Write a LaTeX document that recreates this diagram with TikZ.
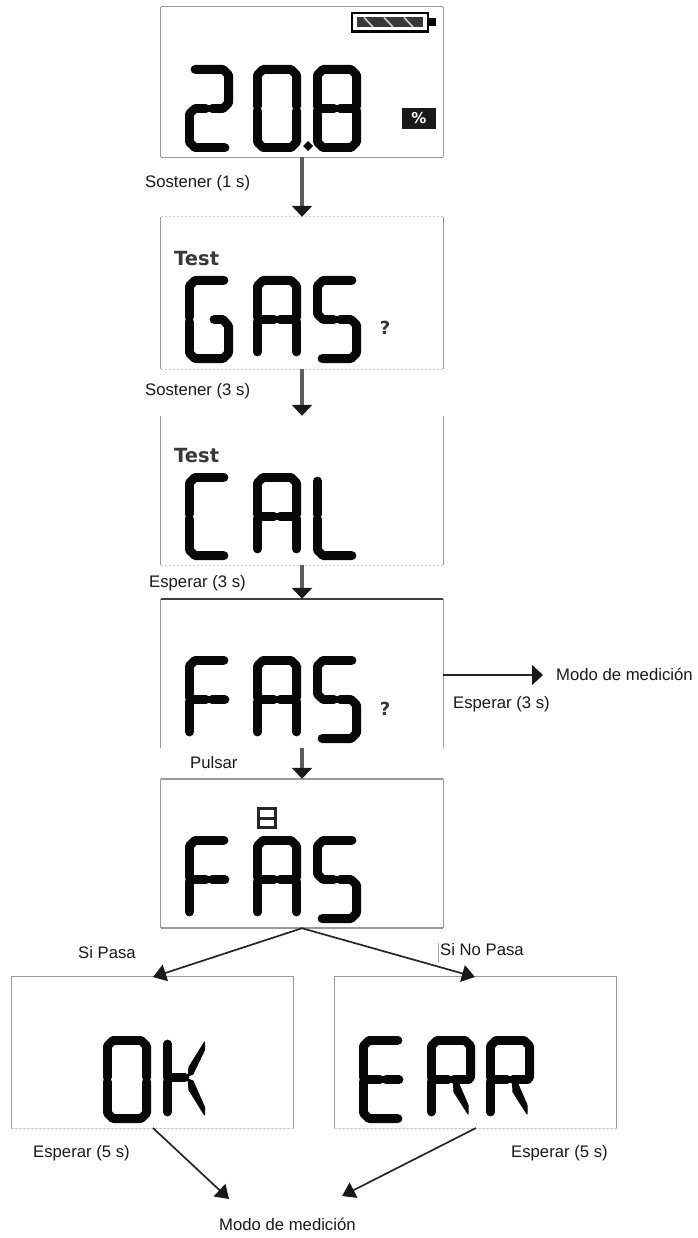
\documentclass[tikz,border=0pt]{standalone}
\usepackage{fontspec}
\setmainfont{Liberation Sans}
\newfontfamily\lcdlabel{DejaVu Sans}
\usetikzlibrary{arrows.meta}
\definecolor{frameline}{gray}{0.6}
\definecolor{framepale}{gray}{0.8}
\definecolor{shaftgray}{gray}{0.36}
\definecolor{lcdblack}{gray}{0.03}
\tikzset{
 panelbox/.style={inner sep=0pt,minimum width=282pt,draw=none},
 pl/.style={draw=frameline,line width=1.3pt},
 pd/.style={draw=framepale,line width=1.1pt,dash pattern=on 2.5pt off 1.5pt},
 lcd/.style={draw=lcdblack,line width=8.8pt,line cap=round,line join=round},
 lcdfill/.style={fill=lcdblack,draw=lcdblack,line width=1pt,line join=round},
 lab/.style={font=\fontsize{16.7}{18}\selectfont,anchor=base west,inner sep=0pt,text=black!90},
 testlab/.style={font=\lcdlabel\bfseries\fontsize{19.5}{21}\selectfont,anchor=base west,inner sep=0pt,text=black!78},
 qlab/.style={font=\lcdlabel\bfseries\fontsize{18}{19}\selectfont,anchor=center,inner sep=0pt,text=black!80},
 downarr/.style={draw=shaftgray,line width=3.6pt,-{Triangle[width=20pt,length=11pt,color=black!90]}},
 thinarr/.style={draw=black!85,line width=1.7pt,-{Triangle[width=17pt,length=13pt,color=black!90]}},
}
% seven-segment glyphs, local box 48 x 87
\newcommand{\glzero}{\draw[lcd] (4.4,41.5)--(4.4,10)--(10,4.4)--(38,4.4)--(43.6,10)--(43.6,41.5);\draw[lcd] (4.4,45.5)--(4.4,77)--(10,82.6)--(38,82.6)--(43.6,77)--(43.6,45.5);}
\newcommand{\gltwo}{\draw[lcd] (10,4.4)--(38,4.4)--(43.6,10)--(43.6,38)--(38,43.5)--(27,43.5);\draw[lcd] (21,43.5)--(10,43.5)--(4.4,49)--(4.4,77)--(10,82.6)--(40,82.6);}
\newcommand{\gleight}{\glzero\draw[lcd] (6,43.5)--(21,43.5);\draw[lcd] (27,43.5)--(42,43.5);}
\newcommand{\glG}{\draw[lcd] (39,4.4)--(10,4.4)--(4.4,10)--(4.4,41.5);\draw[lcd] (4.4,45.5)--(4.4,77)--(10,82.6)--(38,82.6)--(43.6,77)--(43.6,50)--(38,43.5)--(29,43.5);}
\newcommand{\glA}{\draw[lcd] (4.4,41.5)--(4.4,10)--(10,4.4)--(38,4.4)--(43.6,10)--(43.6,41.5);\draw[lcd] (4.4,45.5)--(4.4,76);\draw[lcd] (43.6,45.5)--(43.6,76);\draw[lcd] (6,43.5)--(21,43.5);\draw[lcd] (27,43.5)--(42,43.5);}
\newcommand{\glS}{\draw[lcd] (39,4.4)--(10,4.4)--(4.4,10)--(4.4,38)--(10,43.5)--(21,43.5);\draw[lcd] (27,43.5)--(38,43.5)--(43.6,49)--(43.6,77)--(38,82.6)--(9,82.6);}
\newcommand{\glC}{\draw[lcd] (39,4.4)--(10,4.4)--(4.4,10)--(4.4,41.5);\draw[lcd] (4.4,45.5)--(4.4,77)--(10,82.6)--(39,82.6);}
\newcommand{\glL}{\draw[lcd] (4.4,8)--(4.4,41.5);\draw[lcd] (4.4,45.5)--(4.4,77)--(10,82.6)--(39,82.6);}
\newcommand{\glF}{\draw[lcd] (39,4.4)--(10,4.4)--(4.4,10)--(4.4,41.5);\draw[lcd] (4.4,45.5)--(4.4,76);\draw[lcd] (6,43.5)--(21,43.5);\draw[lcd] (27,43.5)--(40,43.5);}
\newcommand{\glE}{\glC\draw[lcd] (6,43.5)--(21,43.5);\draw[lcd] (27,43.5)--(40,43.5);}
\newcommand{\glR}{\draw[lcd] (4.4,41.5)--(4.4,10)--(10,4.4)--(38,4.4)--(43.6,10)--(43.6,41.5);\draw[lcd] (4.4,45.5)--(4.4,76);\draw[lcd] (6,43.5)--(21,43.5);\draw[lcd] (27,43.5)--(42,43.5);\fill[lcdfill] (26.5,47)--(31.5,47)--(41,69)--(41,78)--(27,56)--cycle;}
\newcommand{\glK}{\draw[lcd] (4.4,8)--(4.4,41.5);\draw[lcd] (4.4,45.5)--(4.4,76);\draw[lcd] (6,41.5)--(22,41.5);\fill[lcdfill] (41.5,6)--(41.5,14)--(30,38)--(25,40)--(26,31)--cycle;\fill[lcdfill] (41.5,79)--(41.5,71)--(30,45)--(25,43)--(26,54)--cycle;}
\newcommand{\gl}[3]{\begin{scope}[shift={(#2,#3)}]\csname gl#1\endcsname\end{scope}}
\begin{document}
\begin{tikzpicture}[x=1pt,y=-1pt]
\useasboundingbox[fill=white] (0,0) rectangle (697,1238);
% panels
\node[panelbox,minimum height=150pt] (p1) at (302,82) {};
\node[panelbox,minimum height=152pt] (p2) at (302,293) {};
\node[panelbox,minimum height=149pt] (p3) at (302,490.5) {};
\node[panelbox,minimum height=149pt] (p4) at (302,673.5) {};
\node[panelbox,minimum height=149pt] (p5) at (302,853.5) {};
\node[panelbox,minimum height=151pt] (pok) at (152.5,1052.5) {};
\node[panelbox,minimum height=151pt] (perr) at (475.5,1052.5) {};
% frames
\draw[pl] (p1.north west)--(p1.north east);
\draw[pl] (p1.north west)--(p1.south west);
\draw[pl] (p1.north east)--(p1.south east);
\draw[pl] (p1.south west)--(p1.south east);
\draw[pd] (p2.north west)--(p2.north east);
\draw[pl] (p2.north west)--(p2.south west);
\draw[pl] (p2.north east)--(p2.south east);
\draw[pd] (p2.south west)--(p2.south east);
\draw[pl] (p3.north west)--(p3.south west);
\draw[pl] (p3.north east)--(p3.south east);
\draw[pd] (p3.south west)--(p3.south east);
\draw[draw=black!75,line width=2pt] (p4.north west)--(p4.north east);
\draw[pl] (p4.north west)--(p4.south west);
\draw[pl] (p4.north east)--(p4.south east);
\draw[pl,line width=1.7pt] (p5.north west)--(p5.north east);
\draw[pl] (p5.north west)--(p5.south west);
\draw[pl] (p5.north east)--(p5.south east);
\draw[pl,line width=1.7pt] (p5.south west)--(p5.south east);
\foreach \p in {pok,perr}{
 \draw[pl] (\p.north west)--(\p.north east);
 \draw[pl] (\p.north west)--(\p.south west);
 \draw[pl] (\p.north east)--(\p.south east);
 \draw[pd] (\p.south west)--(\p.south east);
}
% battery
\draw[draw=black,line width=2.2pt] (352,13) rectangle (428,31.5);
\fill[black] (428,18) rectangle (436,26.5);
\fill[black!78] (357,17.5) rectangle (423,27);
\foreach \q in {364,384,404}{\draw[white!80!black,line width=1.6pt] (\q,17.5)--(\q+9,27);}
% percent
\fill[black!90] (402,108) rectangle (436,129);
\node[inner sep=0pt,text=white,font=\lcdlabel\bfseries\fontsize{15}{16}\selectfont] (pct) at (419,118.5) {\%};
% glyphs
\gl{two}{185}{65}\gl{zero}{253}{65}\gl{eight}{313}{65}
\fill[lcdblack] (308,141)--(313,146)--(308,151)--(303,146)--cycle;
\gl{G}{185}{276}\gl{A}{253}{276}\gl{S}{313}{276}
\gl{C}{185}{473}\gl{A}{253}{473}\gl{L}{313}{473}
\gl{F}{185}{656}\gl{A}{253}{656}\gl{S}{313}{656}
\gl{F}{185}{836}\gl{A}{253}{836}\gl{S}{313}{836}
\gl{zero}{103}{1036}\gl{K}{163}{1036}
\gl{E}{359}{1036}\gl{R}{427}{1036}\gl{R}{486}{1036}
% small 8
\draw[draw=black!85,line width=3.2pt] (258.5,808.5) rectangle (275.5,827.5);
\draw[draw=black!85,line width=3pt] (258.5,818)--(275.5,818);
% Test and ?
\node[testlab] (t2) at (174,266) {Test};
\node[testlab] (t3) at (174,462) {Test};
\node[qlab] (q2) at (385,328) {?};
\node[qlab] (q4) at (385,709) {?};
% labels
\node[lab] (l1) at (145,187.5) {Sostener (1 s)};
\node[lab] (l2) at (145,395.5) {Sostener (3 s)};
\node[lab] (l3) at (149,587.5) {Esperar (3 s)};
\node[lab] (l4) at (453,708.5) {Esperar (3 s)};
\node[lab] (m1) at (556,680.5) {Modo de medición};
\node[lab] (l5) at (190,768.5) {Pulsar};
\node[lab] (l6) at (78,958.5) {Si Pasa};
\node[lab] (l7) at (440,955.5) {Si No Pasa};
\node[lab] (l8) at (33,1157.5) {Esperar (5 s)};
\node[lab] (l9) at (511,1157.5) {Esperar (5 s)};
\node[lab] (m2) at (219,1230.5) {Modo de medición};
% connector ends
\coordinate (c4) at (443,675);
\coordinate (c4e) at (543,675);
\coordinate (okin) at (153,977);
\coordinate (errin) at (475,977);
\coordinate (okout) at (153,1128);
\coordinate (errout) at (476,1128);
\coordinate (okm) at (229,1199);
\coordinate (errm) at (342,1196);
\coordinate (tick1) at (438.5,943);
\coordinate (tick2) at (438.5,962);
% connectors
\draw[draw=black!35,line width=0.6pt] (tick1)--(tick2);
\draw[downarr] (p1.south)--(p2.north);
\draw[downarr] (p2.south)--(p3.north);
\draw[downarr] (p3.south)--(p4.north);
\draw[downarr] (p4.south)--(p5.north);
\draw[thinarr,-{Triangle[width=20pt,length=11pt,color=black!90]}] (c4)--(c4e);
\draw[thinarr] (p5.south)--(okin);
\draw[thinarr] (p5.south)--(errin);
\draw[thinarr] (okout)--(okm);
\draw[thinarr] (errout)--(errm);
\end{tikzpicture}
\end{document}
